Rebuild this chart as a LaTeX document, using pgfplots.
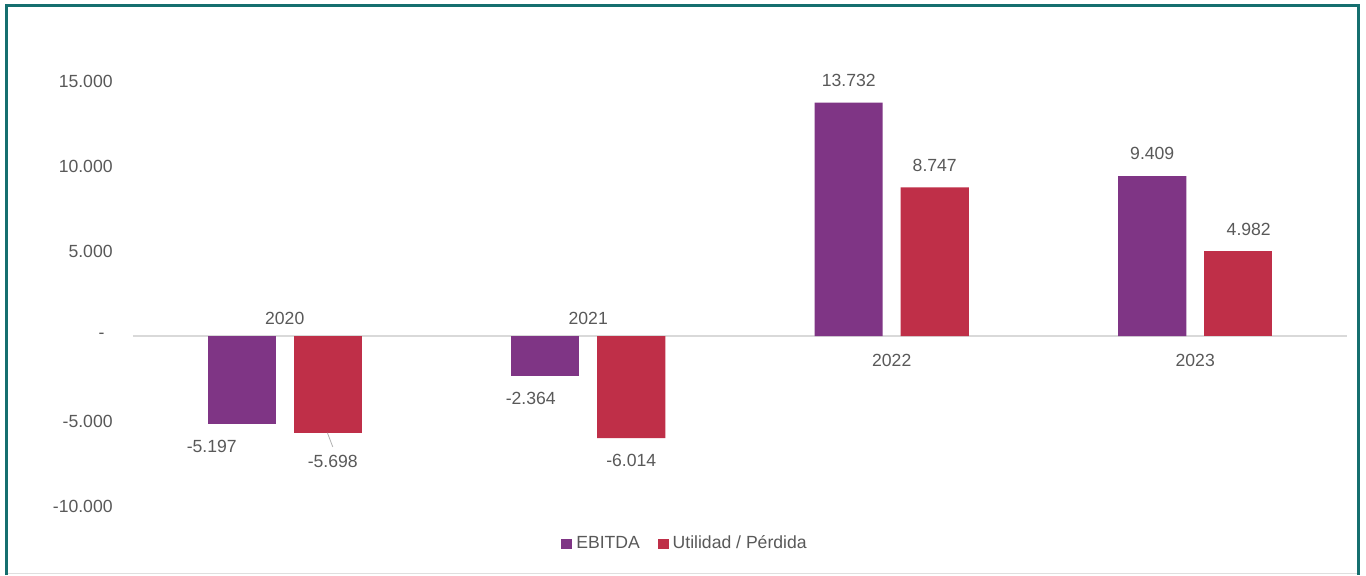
\documentclass[border=0pt]{standalone}
\usepackage{pgfplots}
\pgfplotsset{compat=1.18}
\usepackage{fontspec}
\setmainfont{Liberation Sans}
\definecolor{ebitda}{HTML}{7F3585}
\definecolor{util}{HTML}{BF2F48}
\definecolor{txt}{HTML}{595959}
\definecolor{frame}{HTML}{156F6F}
\newcommand{\lbl}{\fontsize{8.8}{10}\selectfont}
\begin{document}
\begin{tikzpicture}[x=1pt,y=1pt]
\useasboundingbox (0pt,0pt) rectangle (683pt,287.5pt);
\fill[white] (0pt,0pt) rectangle (683pt,287.5pt);
\draw[gray!25, line width=0.5pt] (3.25pt,0.6pt) -- (679.15pt,0.6pt);
\draw[frame, line width=1.5pt] (3.25pt,0pt) -- (3.25pt,284.75pt) -- (679.15pt,284.75pt) -- (679.15pt,0pt);
\begin{axis}[
 at={(66.5pt,34.5pt)}, anchor=south west,
 scale only axis, width=607pt, height=212.5pt,
 xmin=-0.5, xmax=3.5, ymin=-10000, ymax=15000,
 axis line style={draw=none},
 xtick=\empty,
 ytick={-10000,-5000,0,5000,10000,15000},
 yticklabels={-10.000,-5.000,\makebox[7pt][l]{-},5.000,10.000,15.000},
 major tick length=0pt,
 yticklabel style={font=\lbl, text=txt, inner sep=0pt, xshift=-10pt},
 scaled y ticks=false,
 ybar, bar width=34pt,
 point meta=y,
 nodes near coords={\pgfmathprintnumber[fixed,precision=0,1000 sep={.},assume math mode=true]{\pgfplotspointmeta}},
 nodes near coords align={vertical},
 nodes near coords style={font=\lbl, text=txt, inner xsep=0pt, inner ysep=7.8pt},
 legend style={at={(0.4556,-0.0894)}, anchor=center, draw=none, fill=none, legend columns=2, font=\lbl, text=txt,
   nodes={inner sep=2pt},
   /tikz/every even column/.append style={column sep=7pt}},
 legend image code/.code={\fill[#1] (0pt,-2.7pt) rectangle (5.4pt,2.7pt);},
 clip=false,
]
\draw[gray!30, line width=0.6pt] (axis cs:-0.5,0) -- (axis cs:3.5,0);
% EBITDA
\addplot[fill=ebitda, draw=none, bar shift=-21.5pt] coordinates {(2,13732) (3,9409)};
% Utilidad / Perdida
\addplot[fill=util, draw=none, bar shift=21.5pt] coordinates {(1,-6014) (2,8747)};
\addplot[fill=ebitda, draw=none, bar shift=-21.5pt, forget plot,
  every node near coord/.append style={xshift=-15pt}] coordinates {(0,-5197)};
\addplot[fill=ebitda, draw=none, bar shift=-21.5pt, forget plot,
  every node near coord/.append style={xshift=-7.25pt}] coordinates {(1,-2364)};
\addplot[fill=util, draw=none, bar shift=21.5pt, forget plot,
  every node near coord/.append style={xshift=5.25pt}] coordinates {(3,4982)};
\addplot[fill=util, draw=none, bar shift=21.5pt, nodes near coords={}, forget plot] coordinates {(0,-5698)};
\legend{EBITDA, Utilidad / Pérdida}
\node[anchor=base, text=txt, font=\lbl, yshift=5.75pt] at (axis cs:0,0) {2020};
\node[anchor=base, text=txt, font=\lbl, yshift=5.75pt] at (axis cs:1,0) {2021};
\node[anchor=base, text=txt, font=\lbl, yshift=-15.25pt] at (axis cs:2,0) {2022};
\node[anchor=base, text=txt, font=\lbl, yshift=-15.25pt] at (axis cs:3,0) {2023};
\node[text=txt, font=\lbl, xshift=24pt, yshift=-14.3pt] at (axis cs:0,-5698) {-5.698};
\draw[gray!60, line width=0.4pt] ([xshift=21.35pt]axis cs:0,-5698) -- ([xshift=24pt,yshift=-7pt]axis cs:0,-5698);
\end{axis}
\end{tikzpicture}
\end{document}
